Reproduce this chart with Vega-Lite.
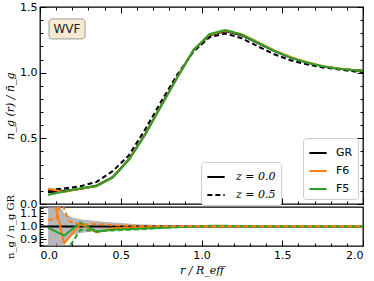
{
  "$schema": "https://vega.github.io/schema/vega-lite/v6.json",
  "padding": {"left": 3, "top": 0, "right": 11, "bottom": 5},
  "spacing": 3,
  "bounds": "flush",
  "config": {
    "view": {"stroke": "black", "strokeWidth": 1.3},
    "font": "DejaVu Sans",
    "axis": {"grid": false, "domain": false, "tickColor": "black", "labelColor": "black", "labelFontSize": 11, "labelFont": "DejaVu Sans", "titleColor": "black", "titleFont": "DejaVu Serif", "titleFontStyle": "italic", "titleFontWeight": "normal", "titleFontSize": 11, "tickWidth": 1}
  },
  "datasets": {
    "main": [
      {"model": "GR", "z": "z = 0.0", "r": 0.05, "v": 0.09},
      {"model": "GR", "z": "z = 0.0", "r": 0.15, "v": 0.10},
      {"model": "GR", "z": "z = 0.0", "r": 0.25, "v": 0.115},
      {"model": "GR", "z": "z = 0.0", "r": 0.35, "v": 0.14},
      {"model": "GR", "z": "z = 0.0", "r": 0.45, "v": 0.205},
      {"model": "GR", "z": "z = 0.0", "r": 0.55, "v": 0.34},
      {"model": "GR", "z": "z = 0.0", "r": 0.65, "v": 0.53},
      {"model": "GR", "z": "z = 0.0", "r": 0.75, "v": 0.75},
      {"model": "GR", "z": "z = 0.0", "r": 0.85, "v": 0.965},
      {"model": "GR", "z": "z = 0.0", "r": 0.95, "v": 1.17},
      {"model": "GR", "z": "z = 0.0", "r": 1.05, "v": 1.285},
      {"model": "GR", "z": "z = 0.0", "r": 1.15, "v": 1.315},
      {"model": "GR", "z": "z = 0.0", "r": 1.25, "v": 1.285},
      {"model": "GR", "z": "z = 0.0", "r": 1.35, "v": 1.225},
      {"model": "GR", "z": "z = 0.0", "r": 1.45, "v": 1.165},
      {"model": "GR", "z": "z = 0.0", "r": 1.55, "v": 1.115},
      {"model": "GR", "z": "z = 0.0", "r": 1.65, "v": 1.078},
      {"model": "GR", "z": "z = 0.0", "r": 1.75, "v": 1.048},
      {"model": "GR", "z": "z = 0.0", "r": 1.85, "v": 1.03},
      {"model": "GR", "z": "z = 0.0", "r": 1.95, "v": 1.018},
      {"model": "GR", "z": "z = 0.0", "r": 2.0, "v": 1.015},
      {"model": "GR", "z": "z = 0.5", "r": 0.05, "v": 0.105},
      {"model": "GR", "z": "z = 0.5", "r": 0.15, "v": 0.118},
      {"model": "GR", "z": "z = 0.5", "r": 0.25, "v": 0.135},
      {"model": "GR", "z": "z = 0.5", "r": 0.35, "v": 0.168},
      {"model": "GR", "z": "z = 0.5", "r": 0.45, "v": 0.25},
      {"model": "GR", "z": "z = 0.5", "r": 0.55, "v": 0.37},
      {"model": "GR", "z": "z = 0.5", "r": 0.65, "v": 0.565},
      {"model": "GR", "z": "z = 0.5", "r": 0.75, "v": 0.78},
      {"model": "GR", "z": "z = 0.5", "r": 0.85, "v": 0.985},
      {"model": "GR", "z": "z = 0.5", "r": 0.95, "v": 1.16},
      {"model": "GR", "z": "z = 0.5", "r": 1.05, "v": 1.27},
      {"model": "GR", "z": "z = 0.5", "r": 1.15, "v": 1.298},
      {"model": "GR", "z": "z = 0.5", "r": 1.25, "v": 1.262},
      {"model": "GR", "z": "z = 0.5", "r": 1.35, "v": 1.2},
      {"model": "GR", "z": "z = 0.5", "r": 1.45, "v": 1.14},
      {"model": "GR", "z": "z = 0.5", "r": 1.55, "v": 1.095},
      {"model": "GR", "z": "z = 0.5", "r": 1.65, "v": 1.064},
      {"model": "GR", "z": "z = 0.5", "r": 1.75, "v": 1.04},
      {"model": "GR", "z": "z = 0.5", "r": 1.85, "v": 1.025},
      {"model": "GR", "z": "z = 0.5", "r": 1.95, "v": 1.008},
      {"model": "GR", "z": "z = 0.5", "r": 2.0, "v": 1.005},
      {"model": "F6", "z": "z = 0.0", "r": 0.05, "v": 0.115},
      {"model": "F6", "z": "z = 0.0", "r": 0.15, "v": 0.092},
      {"model": "F6", "z": "z = 0.0", "r": 0.25, "v": 0.117},
      {"model": "F6", "z": "z = 0.0", "r": 0.35, "v": 0.135},
      {"model": "F6", "z": "z = 0.0", "r": 0.45, "v": 0.202},
      {"model": "F6", "z": "z = 0.0", "r": 0.55, "v": 0.337},
      {"model": "F6", "z": "z = 0.0", "r": 0.65, "v": 0.528},
      {"model": "F6", "z": "z = 0.0", "r": 0.75, "v": 0.748},
      {"model": "F6", "z": "z = 0.0", "r": 0.85, "v": 0.965},
      {"model": "F6", "z": "z = 0.0", "r": 0.95, "v": 1.172},
      {"model": "F6", "z": "z = 0.0", "r": 1.05, "v": 1.29},
      {"model": "F6", "z": "z = 0.0", "r": 1.15, "v": 1.32},
      {"model": "F6", "z": "z = 0.0", "r": 1.25, "v": 1.292},
      {"model": "F6", "z": "z = 0.0", "r": 1.35, "v": 1.232},
      {"model": "F6", "z": "z = 0.0", "r": 1.45, "v": 1.17},
      {"model": "F6", "z": "z = 0.0", "r": 1.55, "v": 1.12},
      {"model": "F6", "z": "z = 0.0", "r": 1.65, "v": 1.08},
      {"model": "F6", "z": "z = 0.0", "r": 1.75, "v": 1.05},
      {"model": "F6", "z": "z = 0.0", "r": 1.85, "v": 1.032},
      {"model": "F6", "z": "z = 0.0", "r": 1.95, "v": 1.019},
      {"model": "F6", "z": "z = 0.0", "r": 2.0, "v": 1.016},
      {"model": "F5", "z": "z = 0.0", "r": 0.05, "v": 0.07},
      {"model": "F5", "z": "z = 0.0", "r": 0.15, "v": 0.095},
      {"model": "F5", "z": "z = 0.0", "r": 0.25, "v": 0.12},
      {"model": "F5", "z": "z = 0.0", "r": 0.35, "v": 0.135},
      {"model": "F5", "z": "z = 0.0", "r": 0.45, "v": 0.2},
      {"model": "F5", "z": "z = 0.0", "r": 0.55, "v": 0.335},
      {"model": "F5", "z": "z = 0.0", "r": 0.65, "v": 0.525},
      {"model": "F5", "z": "z = 0.0", "r": 0.75, "v": 0.745},
      {"model": "F5", "z": "z = 0.0", "r": 0.85, "v": 0.962},
      {"model": "F5", "z": "z = 0.0", "r": 0.95, "v": 1.172},
      {"model": "F5", "z": "z = 0.0", "r": 1.05, "v": 1.295},
      {"model": "F5", "z": "z = 0.0", "r": 1.15, "v": 1.325},
      {"model": "F5", "z": "z = 0.0", "r": 1.25, "v": 1.29},
      {"model": "F5", "z": "z = 0.0", "r": 1.35, "v": 1.228},
      {"model": "F5", "z": "z = 0.0", "r": 1.45, "v": 1.166},
      {"model": "F5", "z": "z = 0.0", "r": 1.55, "v": 1.115},
      {"model": "F5", "z": "z = 0.0", "r": 1.65, "v": 1.078},
      {"model": "F5", "z": "z = 0.0", "r": 1.75, "v": 1.048},
      {"model": "F5", "z": "z = 0.0", "r": 1.85, "v": 1.03},
      {"model": "F5", "z": "z = 0.0", "r": 1.95, "v": 1.018},
      {"model": "F5", "z": "z = 0.0", "r": 2.0, "v": 1.015}
    ],
    "topband": [
      {"r": 0.05, "lo": 0.06, "hi": 0.125},
      {"r": 0.15, "lo": 0.088, "hi": 0.112},
      {"r": 0.25, "lo": 0.109, "hi": 0.121},
      {"r": 0.35, "lo": 0.135, "hi": 0.145}
    ],
    "ratioband": [
      {"r": 0.05, "lo": 0.6, "hi": 1.4},
      {"r": 0.1, "lo": 0.78, "hi": 1.22},
      {"r": 0.15, "lo": 0.885, "hi": 1.1},
      {"r": 0.2, "lo": 0.93, "hi": 1.07},
      {"r": 0.25, "lo": 0.95, "hi": 1.055},
      {"r": 0.3, "lo": 0.958, "hi": 1.048},
      {"r": 0.4, "lo": 0.97, "hi": 1.037},
      {"r": 0.5, "lo": 0.975, "hi": 1.026},
      {"r": 0.6, "lo": 0.982, "hi": 1.018},
      {"r": 0.7, "lo": 0.987, "hi": 1.013},
      {"r": 0.8, "lo": 0.99, "hi": 1.01},
      {"r": 1.0, "lo": 0.993, "hi": 1.007},
      {"r": 1.5, "lo": 0.995, "hi": 1.005},
      {"r": 2.0, "lo": 0.995, "hi": 1.005}
    ],
    "ratio": [
      {"model": "GR", "z": "z = 0.0", "r": 0.0, "v": 1.0},
      {"model": "GR", "z": "z = 0.0", "r": 2.0, "v": 1.0},
      {"model": "F6", "z": "z = 0.0", "r": 0.05, "v": 1.4},
      {"model": "F6", "z": "z = 0.0", "r": 0.15, "v": 0.87},
      {"model": "F6", "z": "z = 0.0", "r": 0.25, "v": 1.02},
      {"model": "F6", "z": "z = 0.0", "r": 0.35, "v": 0.955},
      {"model": "F6", "z": "z = 0.0", "r": 0.45, "v": 0.985},
      {"model": "F6", "z": "z = 0.0", "r": 0.55, "v": 0.99},
      {"model": "F6", "z": "z = 0.0", "r": 0.75, "v": 0.995},
      {"model": "F6", "z": "z = 0.0", "r": 1.0, "v": 1.0},
      {"model": "F6", "z": "z = 0.0", "r": 2.0, "v": 1.0},
      {"model": "F5", "z": "z = 0.0", "r": 0.05, "v": 0.99},
      {"model": "F5", "z": "z = 0.0", "r": 0.15, "v": 0.93},
      {"model": "F5", "z": "z = 0.0", "r": 0.25, "v": 1.03},
      {"model": "F5", "z": "z = 0.0", "r": 0.35, "v": 0.96},
      {"model": "F5", "z": "z = 0.0", "r": 0.45, "v": 0.975},
      {"model": "F5", "z": "z = 0.0", "r": 0.55, "v": 0.98},
      {"model": "F5", "z": "z = 0.0", "r": 0.65, "v": 0.985},
      {"model": "F5", "z": "z = 0.0", "r": 0.75, "v": 0.99},
      {"model": "F5", "z": "z = 0.0", "r": 0.85, "v": 0.995},
      {"model": "F5", "z": "z = 0.0", "r": 0.95, "v": 1.0},
      {"model": "F5", "z": "z = 0.0", "r": 1.05, "v": 1.005},
      {"model": "F5", "z": "z = 0.0", "r": 1.15, "v": 1.005},
      {"model": "F5", "z": "z = 0.0", "r": 1.25, "v": 1.003},
      {"model": "F5", "z": "z = 0.0", "r": 1.35, "v": 1.0},
      {"model": "F5", "z": "z = 0.0", "r": 2.0, "v": 1.0},
      {"model": "F5", "z": "z = 0.5", "r": 0.05, "v": 0.6},
      {"model": "F5", "z": "z = 0.5", "r": 0.15, "v": 0.78},
      {"model": "F5", "z": "z = 0.5", "r": 0.25, "v": 0.975},
      {"model": "F5", "z": "z = 0.5", "r": 0.35, "v": 0.965},
      {"model": "F5", "z": "z = 0.5", "r": 0.45, "v": 0.97},
      {"model": "F5", "z": "z = 0.5", "r": 0.55, "v": 0.975},
      {"model": "F5", "z": "z = 0.5", "r": 0.65, "v": 0.98},
      {"model": "F5", "z": "z = 0.5", "r": 0.75, "v": 0.99},
      {"model": "F5", "z": "z = 0.5", "r": 0.85, "v": 0.995},
      {"model": "F5", "z": "z = 0.5", "r": 1.0, "v": 1.0},
      {"model": "F5", "z": "z = 0.5", "r": 2.0, "v": 1.0},
      {"model": "F6", "z": "z = 0.5", "r": 0.05, "v": 1.05},
      {"model": "F6", "z": "z = 0.5", "r": 0.1, "v": 1.06},
      {"model": "F6", "z": "z = 0.5", "r": 0.13, "v": 1.2},
      {"model": "F6", "z": "z = 0.5", "r": 0.18, "v": 1.04},
      {"model": "F6", "z": "z = 0.5", "r": 0.25, "v": 1.015},
      {"model": "F6", "z": "z = 0.5", "r": 0.35, "v": 1.02},
      {"model": "F6", "z": "z = 0.5", "r": 0.45, "v": 1.01},
      {"model": "F6", "z": "z = 0.5", "r": 0.55, "v": 1.005},
      {"model": "F6", "z": "z = 0.5", "r": 0.75, "v": 1.003},
      {"model": "F6", "z": "z = 0.5", "r": 1.0, "v": 1.002},
      {"model": "F6", "z": "z = 0.5", "r": 2.0, "v": 1.002}
    ]
  },
  "vconcat": [
    {
      "width": 323,
      "height": 197,
      "layer": [
        {
          "data": {"name": "topband"},
          "mark": {"type": "area", "color": "#999999", "opacity": 0.6},
          "encoding": {
            "x": {"field": "r", "type": "quantitative", "scale": {"domain": [0, 2], "nice": false},
                  "axis": {"orient": "bottom", "values": [0, 0.5, 1, 1.5, 2], "labels": false, "title": null, "tickSize": -6}},
            "y": {"field": "lo", "type": "quantitative", "scale": {"domain": [0, 1.5], "nice": false},
                  "axis": {"orient": "left", "values": [0, 0.5, 1, 1.5], "format": ".1f", "tickSize": -6, "labelPadding": 9, "title": "n_g (r) / n̄_g", "titlePadding": 4}},
            "y2": {"field": "hi"}
          }
        },
        {
          "data": {"name": "main"},
          "mark": {"type": "line", "strokeWidth": 2},
          "encoding": {
            "x": {"field": "r", "type": "quantitative", "scale": {"domain": [0, 2], "nice": false},
                  "axis": {"orient": "bottom", "values": [0.1, 0.2, 0.3, 0.4, 0.6, 0.7, 0.8, 0.9, 1.1, 1.2, 1.3, 1.4, 1.6, 1.7, 1.8, 1.9], "labels": false, "title": null, "tickSize": -3}},
            "y": {"field": "v", "type": "quantitative", "scale": {"domain": [0, 1.5], "nice": false},
                  "axis": {"orient": "left", "values": [0.1, 0.2, 0.3, 0.4, 0.6, 0.7, 0.8, 0.9, 1.1, 1.2, 1.3, 1.4], "labels": false, "title": null, "tickSize": -3}},
            "color": {"field": "model", "type": "nominal",
                      "scale": {"domain": ["GR", "F6", "F5"], "range": ["#000000", "#ff7f0e", "#2ca02c"]},
                      "legend": {"title": null, "orient": "bottom-right", "offset": 5, "symbolType": "stroke", "symbolStrokeWidth": 2, "symbolSize": 300, "labelFontSize": 11, "labelFont": "DejaVu Sans", "strokeColor": "#cccccc", "fillColor": "white", "cornerRadius": 3, "padding": 5, "rowPadding": 3, "labelOffset": 8}},
            "strokeDash": {"field": "z", "type": "nominal",
                           "scale": {"domain": ["z = 0.0", "z = 0.5"], "range": [[1, 0], [5, 3]]},
                           "legend": {"title": null, "orient": "none", "legendX": 161, "legendY": 155, "symbolType": "stroke", "symbolStrokeColor": "black", "symbolStrokeWidth": 2, "symbolSize": 300, "labelFontSize": 11, "labelFont": "DejaVu Serif", "labelFontStyle": "italic", "strokeColor": "#cccccc", "fillColor": "white", "cornerRadius": 3, "padding": 5, "rowPadding": 3, "labelOffset": 10}}
          }
        },
        {
          "data": {"values": [{}]},
          "mark": {"type": "rect", "fill": "#f8e9d2", "stroke": "#999999", "strokeWidth": 1, "cornerRadius": 3},
          "encoding": {
            "x": {"datum": 0.056, "type": "quantitative", "scale": {"domain": [0, 2], "nice": false},
                  "axis": {"orient": "top", "values": [0, 0.5, 1, 1.5, 2], "labels": false, "title": null, "tickSize": -6}},
            "x2": {"datum": 0.279},
            "y": {"datum": 1.409, "type": "quantitative", "scale": {"domain": [0, 1.5], "nice": false},
                  "axis": {"orient": "right", "values": [0, 0.5, 1, 1.5], "labels": false, "title": null, "tickSize": -6}},
            "y2": {"datum": 1.257}
          }
        },
        {
          "data": {"values": [{}]},
          "mark": {"type": "text", "text": "WVF", "fontSize": 12, "font": "DejaVu Sans", "color": "#222222", "align": "center", "baseline": "middle"},
          "encoding": {
            "x": {"datum": 0.167, "type": "quantitative", "scale": {"domain": [0, 2], "nice": false},
                  "axis": {"orient": "top", "values": [0.1, 0.2, 0.3, 0.4, 0.6, 0.7, 0.8, 0.9, 1.1, 1.2, 1.3, 1.4, 1.6, 1.7, 1.8, 1.9], "labels": false, "title": null, "tickSize": -3}},
            "y": {"datum": 1.333, "type": "quantitative", "scale": {"domain": [0, 1.5], "nice": false},
                  "axis": {"orient": "right", "values": [0.1, 0.2, 0.3, 0.4, 0.6, 0.7, 0.8, 0.9, 1.1, 1.2, 1.3, 1.4], "labels": false, "title": null, "tickSize": -3}}
          }
        }
      ],
      "resolve": {"axis": {"x": "independent", "y": "independent"}}
    },
    {
      "width": 323,
      "height": 39,
      "layer": [
        {
          "data": {"name": "ratioband"},
          "mark": {"type": "area", "color": "#999999", "opacity": 0.7, "clip": true},
          "encoding": {
            "x": {"field": "r", "type": "quantitative", "scale": {"domain": [0, 2], "nice": false},
                  "axis": {"orient": "bottom", "values": [0, 0.5, 1, 1.5, 2], "format": ".1f", "tickSize": -6, "labelPadding": 9, "title": "r / R_eff", "titlePadding": 4}},
            "y": {"field": "lo", "type": "quantitative", "scale": {"domain": [0.85, 1.15], "nice": false},
                  "axis": {"orient": "left", "values": [0.9, 1.0, 1.1], "format": ".1f", "tickSize": -6, "labelPadding": 9, "title": "n_g / n_g GR", "titlePadding": 4, "titleFontStyle": "normal", "titleFontSize": 10}},
            "y2": {"field": "hi"}
          }
        },
        {
          "data": {"name": "ratio"},
          "mark": {"type": "line", "strokeWidth": 2, "clip": true},
          "encoding": {
            "x": {"field": "r", "type": "quantitative", "scale": {"domain": [0, 2], "nice": false},
                  "axis": {"orient": "bottom", "values": [0.1, 0.2, 0.3, 0.4, 0.6, 0.7, 0.8, 0.9, 1.1, 1.2, 1.3, 1.4, 1.6, 1.7, 1.8, 1.9], "labels": false, "title": null, "tickSize": -3}},
            "y": {"field": "v", "type": "quantitative", "scale": {"domain": [0.85, 1.15], "nice": false},
                  "axis": {"orient": "left", "values": [0.86, 0.88, 0.92, 0.94, 0.96, 0.98, 1.02, 1.04, 1.06, 1.08, 1.12, 1.14], "labels": false, "title": null, "tickSize": -3}},
            "color": {"field": "model", "type": "nominal",
                      "scale": {"domain": ["GR", "F6", "F5"], "range": ["#000000", "#ff7f0e", "#2ca02c"]}, "legend": null},
            "strokeDash": {"field": "z", "type": "nominal",
                           "scale": {"domain": ["z = 0.0", "z = 0.5"], "range": [[1, 0], [5, 3]]}, "legend": null}
          }
        }
      ],
      "resolve": {"axis": {"x": "independent", "y": "independent"}}
    }
  ],
  "resolve": {"legend": {"color": "independent", "strokeDash": "independent"}, "scale": {"color": "independent", "strokeDash": "independent"}}
}
